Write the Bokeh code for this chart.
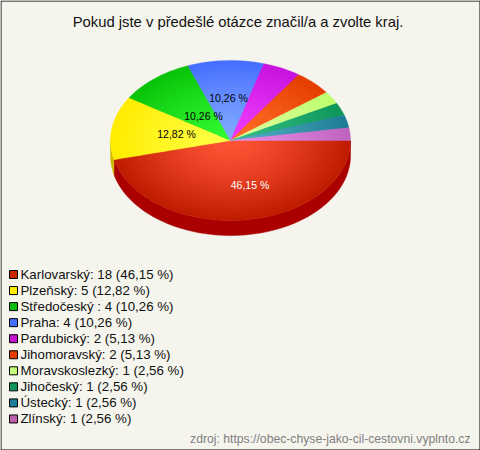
import math
from bokeh.plotting import figure
from bokeh.embed import file_html
from bokeh.resources import INLINE
from bokeh.core.properties import value
from bokeh.models import Range1d

title = "Pokud jste v předešlé otázce značil/a a zvolte kraj."
source_note = "zdroj: https://obec-chyse-jako-cil-cestovni.vyplnto.cz"
categories = ["Karlovarský", "Plzeňský", "Středočeský ", "Praha", "Pardubický",
              "Jihomoravský", "Moravskoslezký", "Jihočeský", "Ústecký", "Zlínský"]
counts = [18, 5, 4, 4, 2, 2, 1, 1, 1, 1]
edge_colors = [(192, 28, 0), (255, 236, 0), (10, 195, 10), (70, 110, 255), (200, 20, 222),
               (230, 62, 0), (190, 255, 110), (15, 150, 90), (30, 125, 150), (190, 100, 190)]
centre_colors = [(255, 85, 55), (255, 255, 70), (50, 250, 50), (130, 170, 255), (240, 60, 255),
                 (255, 110, 40), (222, 255, 160), (50, 190, 130), (80, 175, 190), (232, 140, 232)]
side_colors = [(170, 0, 0), (205, 185, 0), (0, 150, 0), (40, 70, 200), (150, 0, 170),
               (180, 40, 0), (150, 200, 80), (0, 110, 60), (10, 90, 110), (150, 70, 150)]
legend_swatches = [(204, 34, 0), (255, 238, 0), (10, 190, 10), (70, 110, 255), (200, 20, 210),
                   (230, 60, 0), (200, 255, 120), (15, 150, 90), (30, 125, 150), (190, 95, 175)]
shown_labels = [0, 1, 2, 3]
label_colors = ["white", "black", "black", "black"]

W, H = 480, 450
CX, CY, RX, RY, DEPTH = 230, 140, 120, 80, 15
label_xy = [(249.5, 184), (176, 133), (203, 115), (228, 97)]
LEG_Y0, LEG_DY = 274, 16.05

total = sum(counts)


def pct(n):
    return f"{100 * n / total:.2f}".replace(".", ",") + " %"


def rgb(c):
    return "#%02x%02x%02x" % tuple(int(round(v)) for v in c)


spans, a = [], 0.0
for n in counts:
    b = a + 2 * math.pi * n / total
    spans.append((a, b))
    a = b

p = figure(width=W, height=H, output_backend="svg", toolbar_location=None,
           x_range=Range1d(0, W), y_range=Range1d(H, 0),
           x_axis_type=None, y_axis_type=None, min_border=0,
           background_fill_color="#f5f5ee", border_fill_color="#f5f5ee",
           outline_line_color=None)
p.grid.visible = False
p.styles = {"position": "absolute", "left": "0px", "top": "0px"}

# frame
p.rect([W / 2], [H / 2], [W - 1], [H - 1], fill_color=None, line_color="black", line_width=1)


def arc(a0, a1, rx, ry, dy=0.0, n=60):
    xs, ys = [], []
    for i in range(n + 1):
        t = a0 + (a1 - a0) * i / n
        xs.append(CX + rx * math.cos(t))
        ys.append(CY + dy + ry * math.sin(t))
    return xs, ys


# side wall
for (a0, a1), col in zip(spans, side_colors):
    lo, hi = max(a0, 0.0), min(a1, math.pi)
    if hi <= lo:
        continue
    xa, ya = arc(lo, hi, RX, RY)
    xb, yb = arc(lo, hi, RX, RY, DEPTH)
    p.patch(xa + xb[::-1], ya + yb[::-1], fill_color=rgb(col), line_color=rgb(col), line_width=0.5)

# top with radial shading: sectors from the rim inwards
STEPS = 24
for k in range(STEPS):
    t = 1 - k / STEPS
    xs, ys, colors = [], [], []
    for (a0, a1), ec, cc in zip(spans, edge_colors, centre_colors):
        ax, ay = arc(a0, a1, RX * t, RY * t, 0, max(6, int((a1 - a0) * 30)))
        xs.append([CX] + ax)
        ys.append([CY] + ay)
        s = t ** 1.3
        colors.append(rgb([c + (e - c) * s for e, c in zip(ec, cc)]))
    p.patches(xs, ys, fill_color=colors, line_color=colors, line_width=0.4)

F = value("Liberation Sans")
p.text([237.5], [21.5], text=[title], text_font=F, text_font_size="14.8px", text_color="#111111",
       text_align="center", text_baseline="middle")

for i, (idx, col) in enumerate(zip(shown_labels, label_colors)):
    lx, ly = label_xy[i]
    p.text([lx], [ly], text=[pct(counts[idx])], text_font=F, text_font_size="10.5px", text_color=col,
           text_align="center", text_baseline="middle")

for i, (name, n, col) in enumerate(zip(categories, counts, legend_swatches)):
    y = LEG_Y0 + i * LEG_DY
    p.rect([13], [y], [8], [8], fill_color=rgb(col), line_color="black", line_width=1)
    p.text([20], [y], text=[f"{name}: {n} ({pct(n)})"], text_font=F, text_font_size="13.3px",
           text_color="#111111", text_align="left", text_baseline="middle")

p.text([470], [438], text=[source_note], text_font=F, text_font_size="12.2px", text_color="#808080",
       text_align="right", text_baseline="middle")

open("out.html", "w").write(file_html(p, INLINE))
